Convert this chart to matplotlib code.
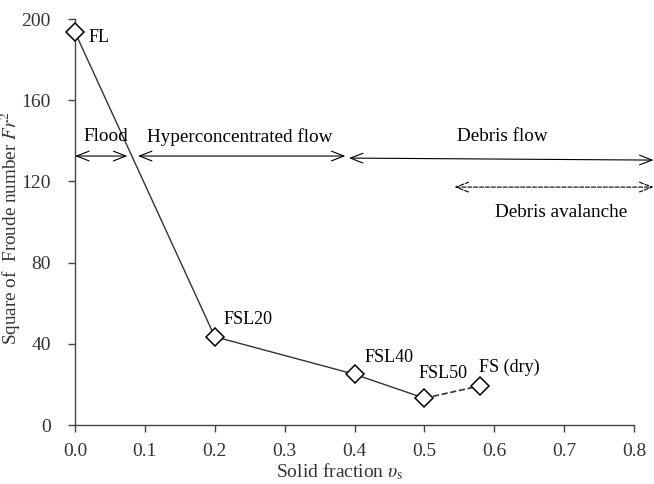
import matplotlib
matplotlib.use("Agg")
import matplotlib.pyplot as plt

plt.rcParams['font.family'] = ['Liberation Serif', 'DejaVu Serif']
plt.rcParams['mathtext.fontset'] = 'stix'

# solid fraction and squared Froude number for each test case
cases = ["FL", "FSL20", "FSL40", "FSL50", "FS (dry)"]
solid_frac = [0.0, 0.2, 0.4, 0.5, 0.58]
froude_sq = [193.5, 43.5, 25.0, 13.2, 19.3]

# flow-regime ranges: (label, x start, x end, y of arrow, label x, label y, dashed)
regimes = [
    ("Flood", 0.0, 0.075, 132.5, 0.044, 142, False),
    ("Hyperconcentrated flow", 0.09, 0.387, 132.5, 0.236, 142, False),
    ("Debris flow", 0.392, 0.828, 131.5, 0.611, 142, False),
    ("Debris avalanche", 0.543, 0.828, 117.2, 0.696, 104.5, True),
]

# label offsets for each case, in points
label_offsets = [(10, -4), (6, 6), (7, 6), (-4, 12), (-1, 7)]

fig = plt.figure(figsize=(6.54, 4.84), dpi=100)
ax = fig.add_axes([0.1147, 0.1219, 0.8547, 0.8388])

line_col = '#333333'
ax.plot(solid_frac[:4], froude_sq[:4], '-', color=line_col, lw=1.0, zorder=2)
ax.plot(solid_frac[3:], froude_sq[3:], '--', color=line_col, lw=1.2, zorder=2)
ax.plot(solid_frac, froude_sq, 'D', ms=9, mfc='white', mec='black', mew=1.1,
        zorder=3, clip_on=False)

for name, x, y, off in zip(cases, solid_frac, froude_sq, label_offsets):
    ax.annotate(name, (x, y), xytext=off, textcoords='offset points',
                fontsize=13, ha='left', va='bottom' if off[1] > 0 else 'center')

for label, x0, x1, y, lx, ly, dashed in regimes:
    ax.annotate('', xy=(x1, y - (1.0 if label == "Debris flow" else 0)), xytext=(x0, y),
                annotation_clip=False,
                arrowprops=dict(arrowstyle='<->,head_length=0.9,head_width=0.35',
                                color='black', lw=0.8,
                                linestyle='--' if dashed else '-',
                                shrinkA=0, shrinkB=0))
    ax.text(lx, ly, label, fontsize=13.8, ha='center', va='center')

ax.set_xlim(0, 0.8)
ax.set_ylim(0, 200)
ax.set_xticks([0, 0.1, 0.2, 0.3, 0.4, 0.5, 0.6, 0.7, 0.8])
ax.set_xticklabels(['0.0', '0.1', '0.2', '0.3', '0.4', '0.5', '0.6', '0.7', '0.8'])
ax.set_yticks([0, 40, 80, 120, 160, 200])

ax.spines['top'].set_visible(False)
ax.spines['right'].set_visible(False)
for s in ('left', 'bottom'):
    ax.spines[s].set_color('#444444')
    ax.spines[s].set_linewidth(1.0)
ax.tick_params(direction='out', length=5, width=1.0, color='#444444',
               labelsize=14, labelcolor='#333333')
ax.tick_params(axis='y', pad=12.5)
ax.tick_params(axis='x', pad=8)

ax.set_xlabel(r'Solid fraction $\upsilon_{\mathrm{s}}$', fontsize=14, color='#333333')
ax.set_ylabel(r'Square of  Froude number $Fr^2$', fontsize=13.8, color='#333333')
ax.xaxis.set_label_coords(0.473, -0.09)
ax.yaxis.set_label_coords(-0.093, 0.486)

fig.savefig('out.png', dpi=100)
